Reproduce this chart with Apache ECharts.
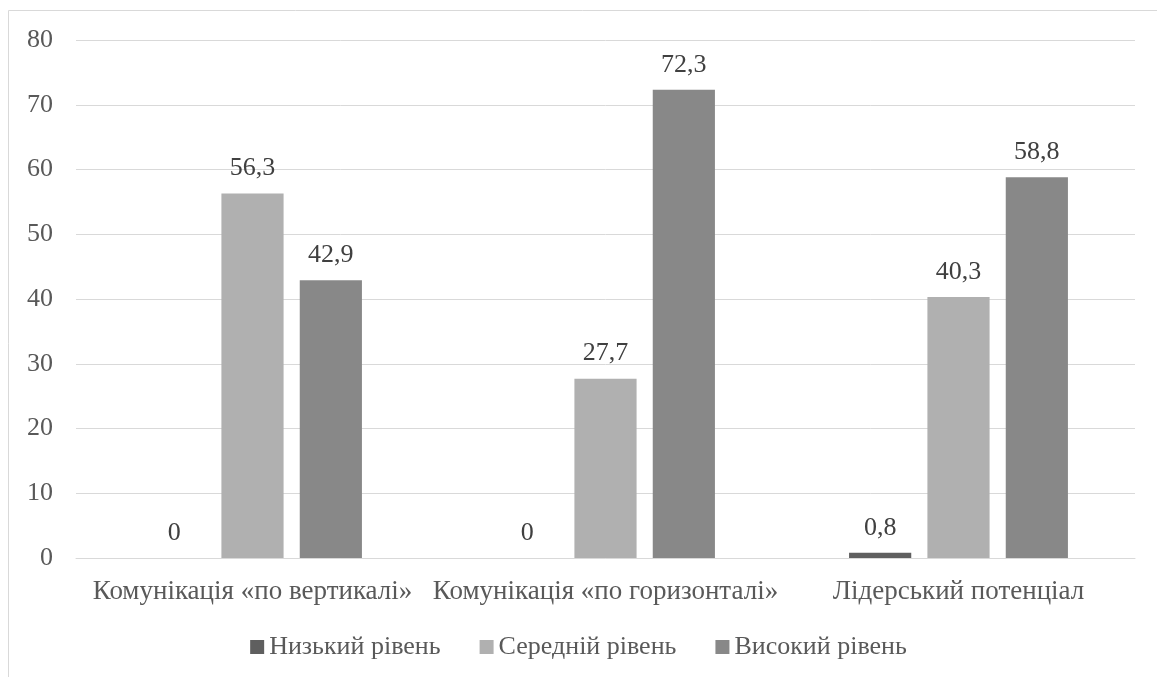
<!DOCTYPE html>
<html>
<head>
<meta charset="utf-8">
<script src="https://cdn.jsdelivr.net/npm/echarts@6/dist/echarts.min.js"></script>
<style>
html,body{margin:0;padding:0;background:#fff;}
#c{width:1157px;height:677px;}
</style>
</head>
<body>
<div id="c"></div>
<script>
const categories = ['Комунікація «по вертикалі»', 'Комунікація «по горизонталі»', 'Лідерський потенціал'];
const seriesNames = ['Низький рівень', 'Середній рівень', 'Високий рівень'];
const lowValues = [0, 0, 0.8];
const midValues = [56.3, 27.7, 40.3];
const highValues = [42.9, 72.3, 58.8];
const colors = ['#5f5f5f', '#b0b0b0', '#888888'];
const FONT = '"Liberation Serif", "Times New Roman", serif';
const TXT = '#595959';

const chart = echarts.init(document.getElementById('c'));
const fmt = p => String(p.value).replace('.', ',');
function mk(name, data, color) {
  return {
    name, type: 'bar', data,
    barGap: '26%', barCategoryGap: '38%',
    itemStyle: { color },
    label: { show: true, position: 'top', distance: 12, formatter: fmt,
      color: '#404040', fontFamily: FONT, fontSize: 26 }
  };
}
chart.setOption({
  animation: false,
  color: colors,
  graphic: [{
    type: 'polyline', silent: true,
    shape: { points: [[8.5, 677], [8.5, 10.5], [1157, 10.5]] },
    style: { stroke: '#d9d9d9', lineWidth: 1, fill: null }
  }],
  grid: { left: 76, right: 22, top: 40, bottom: 119, containLabel: false },
  legend: {
    bottom: 12, left: 'center', itemWidth: 14, itemHeight: 14, itemGap: 39,
    icon: 'rect',
    textStyle: { color: TXT, fontFamily: FONT, fontSize: 26 },
    data: seriesNames
  },
  xAxis: {
    type: 'category', data: categories,
    axisLine: { lineStyle: { color: '#d9d9d9' } },
    axisTick: { show: false },
    axisLabel: { color: TXT, fontFamily: FONT, fontSize: 27, margin: 20, interval: 0 }
  },
  yAxis: {
    type: 'value', min: 0, max: 80, interval: 10,
    axisLine: { show: false }, axisTick: { show: false },
    splitLine: { lineStyle: { color: '#d9d9d9' } },
    axisLabel: { color: TXT, fontFamily: FONT, fontSize: 26, margin: 23 }
  },
  series: [
    mk(seriesNames[0], lowValues, colors[0]),
    mk(seriesNames[1], midValues, colors[1]),
    mk(seriesNames[2], highValues, colors[2])
  ]
});
</script>
</body>
</html>
